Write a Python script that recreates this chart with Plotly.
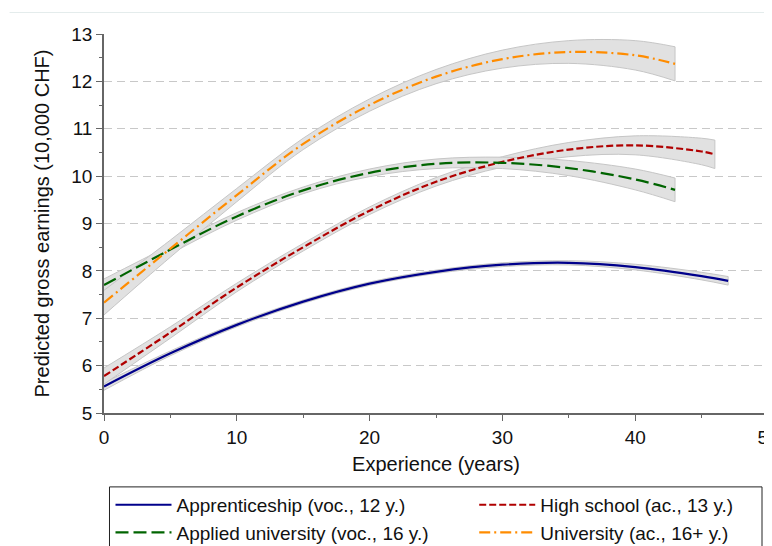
import plotly.graph_objects as go

# ---- data ----
x_appr = [0, 5, 10, 15, 20, 25, 30, 35, 40, 45, 47]
y_appr = [5.56, 6.26, 6.86, 7.35, 7.73, 7.98, 8.13, 8.17, 8.08, 7.89, 7.79]
ci_appr = [0.08, 0.05, 0.04, 0.035, 0.035, 0.035, 0.04, 0.045, 0.06, 0.08, 0.09]

x_high = [0, 5, 10, 15, 20, 25, 30, 35, 40, 45, 46]
y_high = [5.78, 6.70, 7.65, 8.50, 9.27, 9.88, 10.30, 10.56, 10.65, 10.52, 10.46]
ci_high = [0.17, 0.12, 0.09, 0.08, 0.08, 0.09, 0.11, 0.15, 0.20, 0.28, 0.30]

x_appl = [0, 5, 10, 15, 20, 25, 30, 35, 40, 43]
y_appl = [7.70, 8.45, 9.15, 9.70, 10.07, 10.26, 10.28, 10.17, 9.93, 9.71]
ci_appl = [0.13, 0.09, 0.08, 0.07, 0.08, 0.10, 0.12, 0.16, 0.22, 0.25]

x_univ = [0, 5, 10, 15, 20, 25, 30, 35, 40, 43]
y_univ = [7.33, 8.47, 9.60, 10.68, 11.50, 12.10, 12.47, 12.62, 12.55, 12.37]
ci_univ = [0.26, 0.18, 0.14, 0.12, 0.13, 0.15, 0.19, 0.24, 0.31, 0.36]

names = ["Apprenticeship (voc., 12 y.)", "High school (ac., 13 y.)",
         "Applied university (voc., 16 y.)", "University (ac., 16+ y.)"]

y_ticks = [5, 6, 7, 8, 9, 10, 11, 12, 13]
x_ticks = [0, 10, 20, 30, 40, 50]

series = [
    (x_appr, y_appr, ci_appr, names[0], "#00008B", "solid", "legend"),
    (x_high, y_high, ci_high, names[1], "#B00000", "7px,3px", "legend2"),
    (x_appl, y_appl, ci_appl, names[2], "#006400", "13px,5px", "legend"),
    (x_univ, y_univ, ci_univ, names[3], "#FF8C00", "11px,4px,2px,4px", "legend2"),
]

fig = go.Figure()

band_fill = "#e1e1e1"
band_edge = "#c6c6c6"

# confidence bands
for xs, ys, cs, nm, col, dash, lg in series:
    up = [y + c for y, c in zip(ys, cs)]
    lo = [y - c for y, c in zip(ys, cs)]
    fig.add_trace(go.Scatter(
        x=xs, y=up, mode="lines",
        line=dict(color=band_edge, width=1, shape="spline"),
        showlegend=False, hoverinfo="skip"))
    fig.add_trace(go.Scatter(
        x=xs, y=lo, mode="lines", fill="tonexty", fillcolor=band_fill,
        line=dict(color=band_edge, width=1, shape="spline"),
        showlegend=False, hoverinfo="skip"))
    fig.add_trace(go.Scatter(
        x=[xs[-1], xs[-1]], y=[lo[-1], up[-1]], mode="lines",
        line=dict(color=band_edge, width=1),
        showlegend=False, hoverinfo="skip"))

# lines
for xs, ys, cs, nm, col, dash, lg in series:
    fig.add_trace(go.Scatter(
        x=xs, y=ys, name=nm, mode="lines", legend=lg,
        line=dict(color=col, width=2.2, dash=dash, shape="spline")))

font_family = "Liberation Sans, Arial, sans-serif"

# window pixel -> paper coordinate helpers (plot area: x 103.5..768, y 33.5..413 in window)
def px(xw):
    return (xw - 103.5) / 664.5

def py(yw):
    return (413 - yw) / 379.5

leg_common = dict(orientation="v", yanchor="top", xanchor="left",
                  borderwidth=0, bgcolor="rgba(0,0,0,0)",
                  font=dict(size=19, family=font_family, color="#111"),
                  itemwidth=56, tracegroupgap=0, traceorder="normal")

# note: the page body has an 8px default margin, so positions are shifted by -8
fig.update_layout(
    width=772, height=546,
    margin=dict(l=95.5, r=12, t=25.5, b=141, autoexpand=False),
    paper_bgcolor="white", plot_bgcolor="white",
    font=dict(family=font_family, size=18, color="#111"),
    showlegend=True,
    legend=dict(x=px(110), y=py(486), **leg_common),
    legend2=dict(x=px(474), y=py(486), **leg_common),
    shapes=[
        dict(type="line", xref="paper", yref="paper",
             x0=px(9), x1=px(780), y0=py(12), y1=py(12),
             line=dict(color="#e4ecec", width=1)),
        dict(type="rect", xref="paper", yref="paper",
             x0=px(109), x1=px(762), y0=py(487), y1=py(570),
             line=dict(color="#222", width=1), fillcolor="rgba(0,0,0,0)"),
    ],
)

fig.update_xaxes(
    range=[0, 50], tickvals=x_ticks, ticktext=[str(v) for v in x_ticks],
    showgrid=False, zeroline=False,
    showline=True, linecolor="#666", linewidth=1.5,
    ticks="outside", ticklen=6, tickcolor="#666",
    minor=dict(tickvals=[5, 15, 25, 35, 45], ticks="outside", ticklen=3, tickcolor="#666"),
    title=dict(text="Experience (years)", font=dict(size=20), standoff=10),
    tickfont=dict(size=19),
)
fig.update_yaxes(
    range=[5, 13], tickvals=y_ticks, ticktext=[str(v) for v in y_ticks],
    showgrid=True, gridcolor="#c8c8c8", griddash="8px,5px", gridwidth=1,
    zeroline=False,
    showline=True, linecolor="#666", linewidth=1.5,
    ticks="outside", ticklen=6, tickcolor="#666",
    minor=dict(tickvals=[5.5, 6.5, 7.5, 8.5, 9.5, 10.5, 11.5, 12.5], ticks="outside",
               ticklen=3, tickcolor="#666", showgrid=False),
    title=dict(text="Predicted gross earnings (10,000 CHF)", font=dict(size=20), standoff=16),
    tickfont=dict(size=19),
)

fig.write_html("out.html")
